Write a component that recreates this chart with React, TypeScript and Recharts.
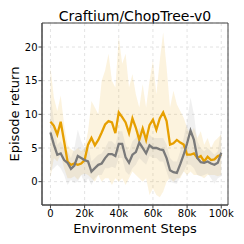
import React from 'react';
import {
  ComposedChart,
  Area,
  Line,
  XAxis,
  YAxis,
  CartesianGrid,
  ReferenceArea,
} from 'recharts';

// environment steps (every 2k)
const steps = [
  0, 2000, 4000, 6000, 8000, 10000, 12000, 14000, 16000, 18000, 20000, 22000, 24000, 26000, 28000,
  30000, 32000, 34000, 36000, 38000, 40000, 42000, 44000, 46000, 48000, 50000, 52000, 54000, 56000,
  58000, 60000, 62000, 64000, 66000, 68000, 70000, 72000, 74000, 76000, 78000, 80000, 82000, 84000,
  86000, 88000, 90000, 92000, 94000, 96000, 98000, 100000,
];

const orangeMean = [
  8.9, 8.3, 7.0, 8.9, 6.0, 3.0, 2.5, 2.7, 2.5, 2.7, 3.2, 5.5, 6.5, 5.4, 6.2, 7.3, 8.5, 9.0, 8.8, 7.2,
  10.3, 9.6, 8.8, 7.2, 9.4, 8.0, 6.2, 7.9, 6.2, 8.4, 9.2, 7.7, 9.4, 10.3, 9.0, 5.5, 5.7, 6.2, 5.8,
  5.5, 4.0, 4.0, 4.2, 3.5, 3.8, 3.0, 3.7, 3.2, 3.3, 3.8, 4.0,
];
const orangeLo = [
  0.5, 3.5, 3.0, 4.0, 2.0, 0.5, 0.5, 0.8, 0.3, 1.0, 1.2, 1.0, 0.5, 0.0, 1.0, 0.0, 0.5, 0.5, -0.5, 0.5,
  0.0, 0.5, -0.5, 0.5, 1.5, 1.0, 0.5, 0.0, 0.5, -2.0, -1.0, -2.0, -2.3, -1.5, 0.0, 0.5, 0.0, 0.5, 0.5,
  1.5, 1.0, 1.5, 1.0, 1.0, 0.8, 0.5, 1.0, 1.0, 1.0, 0.8, 1.0,
];
const orangeHi = [
  17.0, 12.5, 10.5, 12.8, 8.5, 5.5, 4.8, 4.5, 5.0, 4.5, 5.0, 7.5, 12.0, 11.0, 10.0, 15.0, 16.5, 19.0,
  15.0, 14.0, 21.5, 17.5, 19.0, 14.0, 16.0, 13.0, 11.0, 14.5, 11.0, 15.0, 18.0, 13.0, 18.0, 22.2,
  17.0, 11.0, 13.5, 11.5, 10.5, 9.5, 8.0, 7.0, 8.0, 6.5, 7.5, 5.5, 6.5, 5.0, 6.0, 6.5, 7.0,
];

const grayMean = [
  7.3, 5.5, 4.0, 4.2, 3.2, 2.8, 1.9, 2.4, 3.8, 3.5, 3.2, 3.0, 1.5, 2.0, 2.5, 2.7, 3.5, 4.1, 4.1, 3.8,
  5.6, 5.6, 3.6, 2.8, 4.0, 4.4, 5.8, 5.0, 4.2, 5.4, 5.0, 5.0, 4.8, 4.7, 3.5, 1.7, 1.4, 1.3, 2.6, 4.0,
  5.7, 7.6, 6.2, 3.5, 2.9, 2.8, 3.0, 2.7, 2.5, 2.8, 4.3,
];
const grayLo = [
  1.5, 2.0, 2.5, 2.0, 1.0, -0.5, 0.3, -0.2, 0.0, 1.0, -0.3, 0.5, -0.5, 0.5, 1.0, 1.0, 2.0, 2.0, 2.2,
  2.0, 3.5, 3.5, 1.5, 1.0, 2.0, 2.5, 3.5, 3.0, 2.5, 3.8, 3.5, 3.5, 3.0, 3.0, 1.5, 0.0, -0.2, -0.3, 0.8,
  1.5, 2.5, 2.5, 2.0, 1.0, 0.8, 1.0, 1.2, 0.5, -0.3, 0.5, 0.8,
];
const grayHi = [
  13.0, 9.0, 5.5, 6.0, 5.0, 4.5, 3.5, 5.0, 7.7, 6.0, 5.0, 5.5, 3.0, 3.5, 4.0, 4.2, 5.0, 6.0, 6.0, 5.5,
  7.5, 7.5, 5.5, 4.5, 6.0, 6.5, 8.0, 7.0, 6.0, 7.0, 6.5, 6.5, 6.5, 6.5, 5.5, 3.5, 3.0, 3.0, 4.5, 6.5,
  9.0, 12.5, 10.0, 6.0, 5.0, 4.5, 5.0, 4.5, 4.0, 4.5, 8.0,
];

const xTicks = [0, 20000, 40000, 60000, 80000, 100000];
const yTicks = [0, 5, 10, 15, 20];

const X_DOMAIN: [number, number] = [-4950, 103950];
const Y_DOMAIN: [number, number] = [-3.47, 23.57];

const ORANGE = '#E69F00';
const GRAY = '#7a7a7a';
const FONT = 'DejaVu Sans';

export default function App() {
  const data = steps.map((s, i) => ({
    step: s,
    orange: orangeMean[i],
    orangeBand: [orangeLo[i], orangeHi[i]],
    gray: grayMean[i],
    grayBand: [grayLo[i], grayHi[i]],
  }));

  const tickStyle = { fill: '#000', fontSize: 10, fontFamily: FONT };

  return (
    <div style={{ position: 'absolute', left: 0, top: 0, width: 244, height: 244, background: '#fff' }}>
      <div
        style={{
          position: 'absolute',
          left: 32,
          width: 206,
          top: 7,
          textAlign: 'center',
          fontFamily: FONT,
          fontSize: 14,
          lineHeight: '18px',
          color: '#000',
        }}
      >
        Craftium/ChopTree-v0
      </div>
      <ComposedChart width={244} height={244} data={data} margin={{ top: 23, right: 16, bottom: 0, left: 0 }}>
        <CartesianGrid strokeDasharray="3 3" stroke="#e3e3e3" />
        <XAxis
          dataKey="step"
          type="number"
          domain={X_DOMAIN}
          ticks={xTicks}
          allowDataOverflow
          height={39}
          tickSize={3.5}
          tickMargin={1}
          tick={tickStyle}
          stroke="#444"
          tickFormatter={(v: number) => (v === 0 ? '0' : `${v / 1000}k`)}
          label={{
            value: 'Environment Steps',
            position: 'insideBottom',
            offset: 11,
            fill: '#000',
            fontSize: 13,
            fontFamily: FONT,
          }}
        />
        <YAxis
          type="number"
          domain={Y_DOMAIN}
          ticks={yTicks}
          allowDataOverflow
          width={42}
          tickSize={3.5}
          tickMargin={1}
          tick={tickStyle}
          stroke="#444"
          label={{
            value: 'Episode return',
            angle: -90,
            position: 'insideLeft',
            offset: 14,
            fill: '#000',
            fontSize: 13,
            fontFamily: FONT,
            style: { textAnchor: 'middle' },
          }}
        />
        <Area
          dataKey="orangeBand"
          type="linear"
          stroke="none"
          fill={ORANGE}
          fillOpacity={0.13}
          isAnimationActive={false}
        />
        <Area
          dataKey="grayBand"
          type="linear"
          stroke="none"
          fill="#9a9a9a"
          fillOpacity={0.15}
          isAnimationActive={false}
        />
        <Line
          dataKey="orange"
          type="linear"
          stroke={ORANGE}
          strokeWidth={2.3}
          dot={false}
          isAnimationActive={false}
        />
        <Line
          dataKey="gray"
          type="linear"
          stroke={GRAY}
          strokeWidth={2.3}
          dot={false}
          isAnimationActive={false}
        />
        <ReferenceArea
          x1={X_DOMAIN[0]}
          x2={X_DOMAIN[1]}
          y1={Y_DOMAIN[0]}
          y2={Y_DOMAIN[1]}
          fill="none"
          stroke="#444"
          strokeWidth={1}
        />
      </ComposedChart>
    </div>
  );
}
